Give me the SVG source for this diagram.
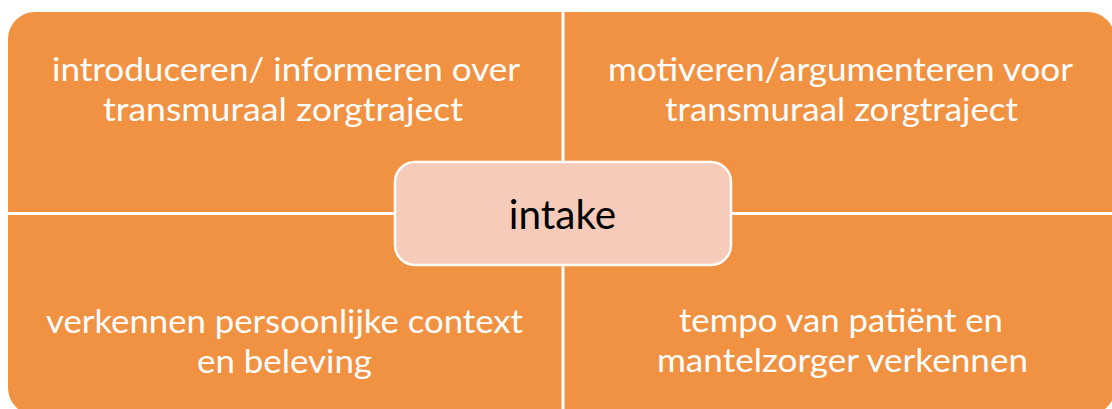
<svg xmlns="http://www.w3.org/2000/svg" width="1112" height="409" viewBox="0 0 1112 409">
  <style>
    .quad { fill: #F19243; }
    .qt { font-family: Lato, "Open Sans", sans-serif; font-size: 32.5px; fill: #FFFFFF; text-anchor: middle; }
    .center { fill: #F6CBBA; stroke: #FFFFFF; stroke-width: 2.5; }
    .ct { font-family: Lato, "Open Sans", sans-serif; font-size: 40.5px; fill: #000000; text-anchor: middle; }
    .sep { stroke: #FFFFFF; stroke-width: 3; }
  </style>
  <rect width="1112" height="409" fill="#FFFFFF"/>
  <g id="quadrant-top-left">
    <path class="quad" d="M8,39 A27,27 0 0 1 35,12 L563,12 L563,213.5 L8,213.5 Z"/>
    <text class="qt" x="286" y="81" textLength="468" lengthAdjust="spacingAndGlyphs">introduceren/ informeren over</text>
    <text class="qt" x="283" y="120.5" textLength="360" lengthAdjust="spacingAndGlyphs">transmuraal zorgtraject</text>
  </g>
  <g id="quadrant-top-right">
    <path class="quad" d="M563,12 L1088,12 A27,27 0 0 1 1115,39 L1115,213.5 L563,213.5 Z"/>
    <text class="qt" x="840.5" y="81" textLength="465" lengthAdjust="spacingAndGlyphs">motiveren/argumenteren voor</text>
    <text class="qt" x="841.5" y="121" textLength="353" lengthAdjust="spacingAndGlyphs">transmuraal zorgtraject</text>
  </g>
  <g id="quadrant-bottom-left">
    <path class="quad" d="M8,213.5 L563,213.5 L563,415 L35,415 A27,27 0 0 1 8,388 Z"/>
    <text class="qt" x="284.5" y="333" textLength="477" lengthAdjust="spacingAndGlyphs">verkennen persoonlijke context</text>
    <text class="qt" x="284.5" y="373" textLength="175" lengthAdjust="spacingAndGlyphs">en beleving</text>
  </g>
  <g id="quadrant-bottom-right">
    <path class="quad" d="M563,213.5 L1115,213.5 L1115,388 A27,27 0 0 1 1088,415 L563,415 Z"/>
    <text class="qt" x="841" y="332" textLength="324" lengthAdjust="spacingAndGlyphs">tempo van patiënt en</text>
    <text class="qt" x="842.5" y="372" textLength="371" lengthAdjust="spacingAndGlyphs">mantelzorger verkennen</text>
  </g>
  <g id="connectors">
    <line class="sep" x1="563" y1="0" x2="563" y2="409"/>
    <line class="sep" x1="0" y1="213.5" x2="1112" y2="213.5"/>
  </g>
  <g id="node-intake">
    <rect class="center" x="395" y="162" width="336" height="103" rx="20" ry="20"/>
    <text class="ct" x="562.5" y="229">intake</text>
  </g>
</svg>
